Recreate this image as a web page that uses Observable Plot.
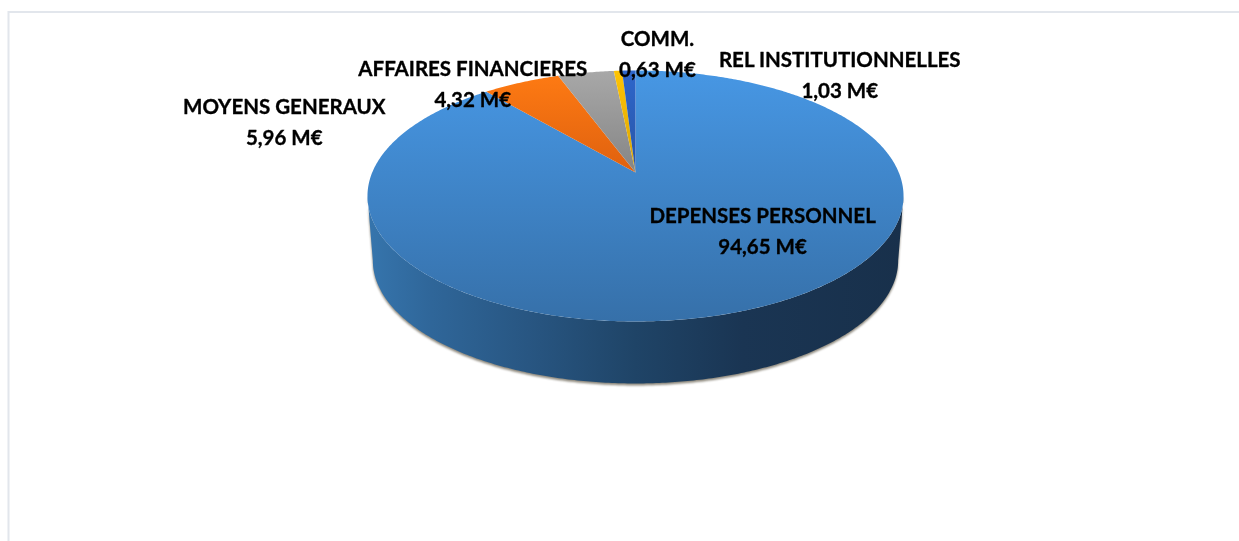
<!DOCTYPE html>
<html>
<head>
<meta charset="utf-8">
<script src="https://cdn.jsdelivr.net/npm/d3@7"></script>
<script src="https://cdn.jsdelivr.net/npm/@observablehq/plot@0.6"></script>
<style>
html,body{margin:0;padding:0;background:#fff;overflow:hidden}
svg{display:block}
</style>
</head>
<body>
<div id="chart"></div>
<script>
// Data
const categories = ["DEPENSES PERSONNEL","MOYENS GENERAUX","AFFAIRES FINANCIERES","COMM.","REL INSTITUTIONNELLES"];
const values = [94.65,5.96,4.32,0.63,1.03];
const valueLabels = ["94,65 M€","5,96 M€","4,32 M€","0,63 M€","1,03 M€"];

// Layout
const fills = ["url(#gBlue)","url(#gOrange)","url(#gGrey)","url(#gYellow)","url(#gDark)"];
const labelDx = [17,-237,-113,39.5,211];
const labelDy = [-82,37,9,-19,2.5];
const W = 1239, H = 541;
const cx = 635, cy = 172, k = 0.187, A = 121.1, B = 263.3;
const wallY = 237, wallS = 0.98;

// perspective projection of the pie disc: t = clockwise angle from top
const rim = (t, s = 1, y0 = cy) => {
  const u = Math.sin(t), v = Math.cos(t), d = 1 + k * v;
  return {x: cx + s * B * u / d, y: y0 - s * A * v / d};
};
const total = d3.sum(values);
const cum = d3.cumsum(values);
const slices = categories.map((name, i) => {
  const a0 = (i ? cum[i - 1] : 0) / total * 2 * Math.PI;
  const a1 = cum[i] / total * 2 * Math.PI;
  return {name, a0, a1, mid: (a0 + a1) / 2, value: valueLabels[i]};
});
const arc = (a0, a1, s, y0) => {
  const n = Math.max(2, Math.ceil(Math.abs(a1 - a0) / 0.01));
  return d3.range(n + 1).map(i => rim(a0 + (a1 - a0) * i / n, s, y0));
};
const wedge = s => [{x: cx, y: cy}, ...arc(s.a0, s.a1, 1, cy), {x: cx, y: cy}];

// front wall: outline between top rim and bottom rim, from silhouette to silhouette
const tS = Math.acos(-k);
const wall = [...arc(tS, 2 * Math.PI - tS, 1, cy), ...arc(2 * Math.PI - tS, tS, wallS, wallY)];

const blur = amount => (index, scales, values, dimensions, context, next) => {
  const g = next(index, scales, values, dimensions, context);
  g.style.filter = `blur(${amount}px)`;
  return g;
};

const defs = () => {
  const d = d3.create("svg:defs");
  const grad = (id, x1, y1, x2, y2, stops) => {
    const g = d.append("linearGradient").attr("id", id).attr("gradientUnits", "userSpaceOnUse")
      .attr("x1", x1).attr("y1", y1).attr("x2", x2).attr("y2", y2);
    stops.forEach(([o, c]) => g.append("stop").attr("offset", o).attr("stop-color", c));
  };
  grad("gBlue", 0, 70, 0, 321, [[0, "#4797e4"], [1, "#3670a9"]]);
  grad("gOrange", 0, 70, 0, 172, [[0, "#ff7b13"], [1, "#df610f"]]);
  grad("gGrey", 0, 70, 0, 172, [[0, "#a8a8a8"], [1, "#858585"]]);
  grad("gYellow", 0, 70, 0, 172, [[0, "#ffc404"], [1, "#d8a406"]]);
  grad("gDark", 0, 70, 0, 172, [[0, "#2e66cb"], [1, "#2855a6"]]);
  grad("gWall", 367, 0, 903, 0, [[0, "#3675ad"], [0.12, "#2f6699"], [0.3, "#285682"], [0.5, "#1f4467"], [0.7, "#1a3553"], [1, "#18304b"]]);
  return d.node();
};

const chart = Plot.plot({
  width: W, height: H, margin: 0,
  x: {domain: [0, W], range: [0, W], axis: null},
  y: {domain: [0, H], range: [0, H], axis: null},
  style: {background: "#fff", fontFamily: "Lato, 'Open Sans', sans-serif"},
  marks: [
    defs,
    Plot.ruleY([11.5], {x1: 8, x2: W, stroke: "#e2e6ec", strokeWidth: 2}),
    Plot.ruleX([8], {y1: 11, y2: H, stroke: "#e2e6ec", strokeWidth: 2}),
    Plot.line(wall, {x: "x", y: "y", fill: "#8d887c", stroke: "none", dy: 2, render: blur(1.3), curve: "linear"}),
    Plot.line(wall, {x: "x", y: "y", fill: "url(#gWall)", stroke: "none", curve: "linear"}),
    ...slices.map((s, i) => Plot.line(wedge(s), {x: "x", y: "y", fill: fills[i], stroke: "none", curve: "linear"})),
    ...slices.map((s, i) => {
      const p = rim(s.mid);
      return Plot.text([{...p, text: s.name + "\n" + s.value}], {
        x: "x", y: "y", text: "text", dx: labelDx[i], dy: labelDy[i],
        fontSize: 20.5, fontWeight: 700, fill: "#000", stroke: "#000", strokeWidth: 0.35, lineHeight: 1.51, textAnchor: "middle", render: blur(0.3)
      });
    })
  ]
});
document.getElementById("chart").append(chart);
</script>
</body>
</html>
